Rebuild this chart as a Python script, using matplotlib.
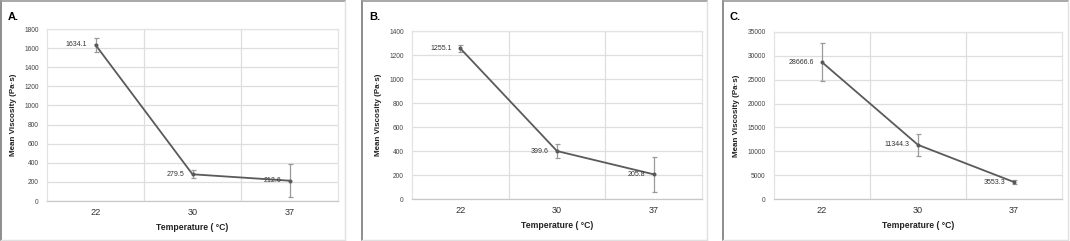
import matplotlib.pyplot as plt
import numpy as np

plt.rcParams['font.family'] = ['Liberation Sans', 'DejaVu Sans']

temps = ['22', '30', '37']

visc_a = [1634.1, 279.5, 212.6]
err_a = [75, 42, 170]
visc_b = [1255.1, 399.6, 205.8]
err_b = [28, 55, 145]
visc_c = [28666.6, 11344.3, 3553.3]
err_c = [4000, 2370, 500]

panel_names = ['A.', 'B.', 'C.']
y_max = [1800, 1400, 35000]
y_step = [200, 200, 5000]

W, H = 1070, 241
fig = plt.figure(figsize=(W / 100, H / 100), dpi=100)

# panel frames (pixels: left, right)
frames = [(1, 345), (362, 707), (723, 1068)]
# plot areas (pixels: left, right, top, bottom)
areas = [(47, 338, 29, 201), (412, 702, 31, 199), (774, 1062, 32, 199)]


def px(x, y):
    return x / W, 1 - y / H


for (fl, fr) in frames:
    x0, y0 = px(fl, 240)
    x1, y1 = px(fr, 1)
    fig.add_artist(plt.Line2D([x0, x0], [y0, y1], color='#7a7a7a', lw=1.2))
    fig.add_artist(plt.Line2D([x0, x1], [y1, y1], color='#9a9a9a', lw=1.2))
    fig.add_artist(plt.Line2D([x1, x1], [y0, y1], color='#e0e0e0', lw=1.0))
    fig.add_artist(plt.Line2D([x0, x1], [y0, y0], color='#e0e0e0', lw=1.0))

data = [(visc_a, err_a), (visc_b, err_b), (visc_c, err_c)]

for i, (vals, errs) in enumerate(data):
    l, r, t, b = areas[i]
    ax = fig.add_axes([l / W, 1 - b / H, (r - l) / W, (b - t) / H])
    xs = np.arange(len(temps))
    ax.errorbar(xs, vals, yerr=errs, fmt='none', ecolor='#9a9a9a', elinewidth=0.9,
                capsize=1.8, capthick=0.9, zorder=3)
    ax.plot(xs, vals, color='#5a5a5a', lw=1.3, marker='o', ms=1.9, zorder=4)
    for x, v in zip(xs, vals):
        ax.annotate(f'{v:.1f}', (x, v), xytext=(-6, 0), textcoords='offset points',
                    ha='right', va='center', fontsize=5.0, color='#333333', zorder=5)
    ax.set_xlim(-0.5, 2.5)
    ax.set_ylim(0, y_max[i])
    ax.set_yticks(np.arange(0, y_max[i] + 1, y_step[i]))
    ax.set_xticks(xs)
    ax.set_xticklabels(temps)
    ax.tick_params(axis='y', length=0, labelsize=4.8, pad=6, labelcolor='#444444')
    ax.tick_params(axis='x', length=0, labelsize=6.6, pad=5, labelcolor='#333333')
    ax.grid(axis='y', color='#dedede', lw=0.9)
    for xv in [0.5, 1.5]:
        ax.axvline(xv, color='#dedede', lw=0.9, zorder=0)
    ax.set_axisbelow(True)
    for s in ['top', 'right', 'left']:
        ax.spines[s].set_color('#e3e3e3')
        ax.spines[s].set_linewidth(0.9)
    ax.spines['bottom'].set_color('#c8c8c8')
    ax.spines['bottom'].set_linewidth(0.9)
    ax.set_xlabel('Temperature ( \u00b0C)', fontsize=6.2, fontweight='bold', labelpad=4,
                  color='#222222')
    ax.set_ylabel('Mean Viscosity (Pa\u00b7s)', fontsize=5.8, fontweight='bold', labelpad=5,
                  color='#222222')
    fl = frames[i][0]
    fig.text((fl + 7) / W, 1 - 17 / H, panel_names[i], fontsize=8, fontweight='bold',
             va='center', ha='left')

fig.savefig('out.png', dpi=100)
